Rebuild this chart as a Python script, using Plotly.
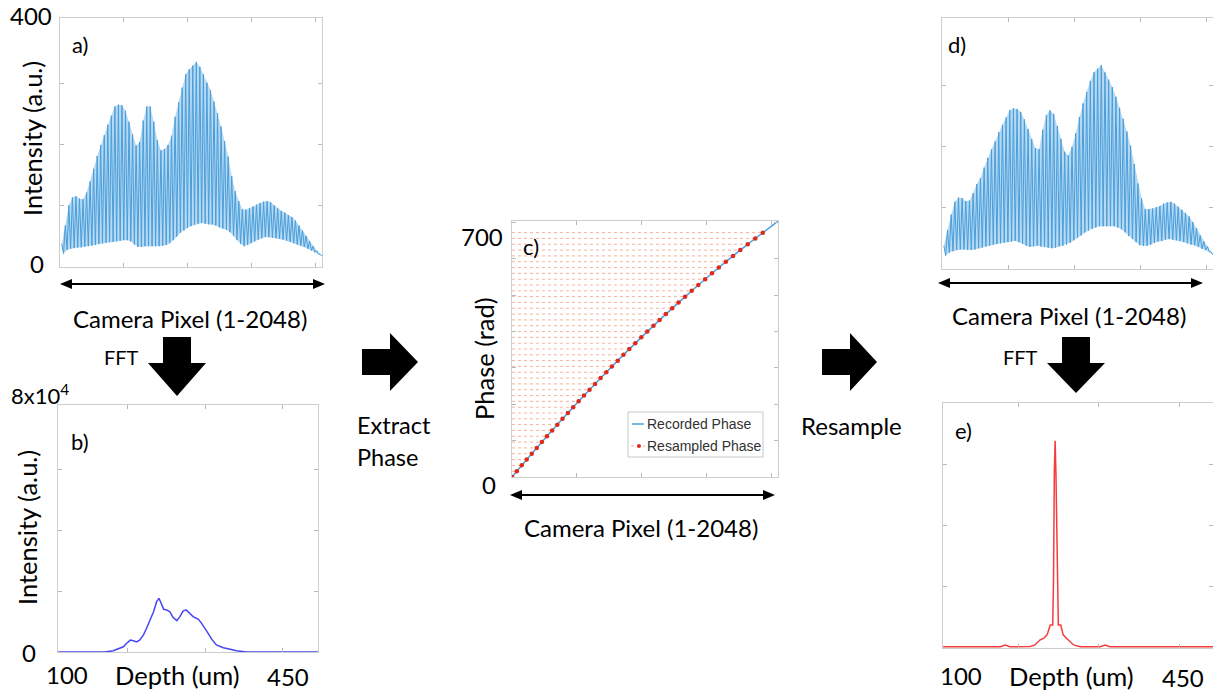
import plotly.graph_objects as go

W, H = 1213, 692

# ---------------- data ----------------
# a) raw spectrum: fringe peak / trough intensities (a.u.), 74 fringes over pixels 1-2048
a_peaks = [38, 68, 101, 114, 116, 112, 111, 122, 140, 161, 182, 200, 216, 233, 248, 263, 266, 265, 256, 238,
           217, 199, 205, 240, 263, 263, 238, 208, 191, 193, 200, 215, 246, 270, 294, 316, 324, 330, 336, 328,
           316, 302, 290, 271, 252, 230, 206, 181, 149, 124, 108, 95, 94, 96, 99, 102, 105, 107, 108, 106,
           101, 96, 92, 89, 85, 82, 76, 68, 60, 51, 42, 34, 27, 21]
a_troughs = [22, 28, 30, 31, 32, 32, 33, 34, 35, 36, 38, 39, 40, 41, 41, 42, 43, 44, 44, 42,
             37, 33, 33, 34, 34, 34, 34, 34, 35, 36, 39, 44, 50, 56, 60, 64, 67, 69, 71, 72,
             71, 70, 70, 68, 65, 63, 61, 57, 51, 44, 38, 34, 36, 39, 42, 45, 47, 49, 49, 48,
             47, 46, 45, 43, 41, 39, 37, 35, 33, 30, 27, 24, 21, 18]

# d) resampled spectrum
d_peaks = [38, 64, 89, 110, 117, 116, 111, 112, 124, 139, 149, 166, 182, 196, 209, 224, 236, 248, 260, 263,
           262, 257, 245, 229, 213, 198, 196, 228, 252, 260, 254, 234, 213, 192, 186, 200, 222, 249, 271, 290,
           308, 322, 328, 334, 322, 310, 298, 282, 264, 246, 225, 202, 172, 140, 116, 98, 98, 99, 101, 103,
           107, 109, 110, 107, 102, 97, 92, 86, 77, 67, 55, 45, 37, 28]
d_troughs = [22, 27, 29, 31, 32, 32, 31, 31, 32, 34, 35, 37, 38, 40, 41, 42, 43, 44, 45, 46,
             44, 41, 38, 36, 37, 38, 37, 36, 35, 34, 35, 37, 38, 40, 43, 47, 51, 55, 60, 63,
             66, 68, 70, 70, 70, 70, 70, 68, 65, 60, 54, 49, 44, 39, 38, 38, 40, 43, 45, 46,
             48, 49, 48, 47, 46, 44, 42, 40, 39, 36, 33, 31, 28, 23]

# b) FFT of raw spectrum (depth um, intensity x1e4)
b_depth = [110, 170, 181, 187, 194, 198, 203, 207, 211, 215, 220, 224, 228, 233, 237, 240, 242, 246, 250, 254,
           258, 263, 267, 271, 275, 280, 284, 291, 295, 302, 308, 314, 323, 332, 340, 353, 445]
b_int = [0, 0, 0.04, 0.09, 0.17, 0.28, 0.39, 0.37, 0.33, 0.39, 0.56, 0.78, 1.03, 1.32, 1.65, 1.76, 1.65, 1.40, 1.38, 1.32,
         1.14, 1.03, 1.16, 1.34, 1.38, 1.27, 1.16, 1.07, 0.94, 0.67, 0.42, 0.23, 0.14, 0.09, 0.04, 0, 0]

# e) FFT of resampled spectrum
e_depth = [107, 178, 184, 190, 215, 221, 227, 232, 236, 240, 243, 244, 245, 246, 247, 248.5, 250, 253, 256, 260,
           265, 269, 277, 302, 308, 314, 442]
e_int = [0.04, 0.04, 0.1, 0.04, 0.05, 0.1, 0.26, 0.32, 0.43, 0.75, 0.75, 2.23, 5.73, 6.79, 5.73, 2.23, 0.75, 0.75, 0.43, 0.32,
         0.21, 0.1, 0.04, 0.04, 0.1, 0.04, 0.04]

# c) recorded phase and resampled phase points
c_pixel = [1, 256, 512, 768, 1024, 1280, 1536, 1792, 2048]
c_phase = [0, 106.3, 207.4, 303.2, 393.7, 478.9, 558.9, 633.6, 703]
res_phase = [0, 16, 32, 48, 64, 80, 96, 112, 128, 144, 160, 176, 192, 208, 224, 240, 256, 272, 288, 304,
             320, 336, 352, 368, 384, 400, 416, 432, 448, 464, 480, 496, 512, 528, 544, 560, 576, 592, 608, 624,
             640, 656, 672]
res_pixel = [1, 38, 76, 114, 153, 191, 231, 270, 310, 350, 390, 431, 472, 514, 555, 598, 640, 683, 727, 770,
             815, 859, 904, 950, 996, 1042, 1090, 1137, 1185, 1234, 1283, 1333, 1384, 1435, 1487, 1540, 1593, 1647, 1702, 1758,
             1815, 1873, 1931]

pixel_ticks = [500, 1000, 1500, 2000]
depth_ticks = [200, 300, 400]

# ---------------- helpers ----------------
def X(px):
    return px / W

def Y(py):
    return 1 - py / H

def fringe_x(n):
    peaks_x = [1 + (i + 0.5) * 2047 / n for i in range(n)]
    troughs_x = [1 + (i + 1.0) * 2047 / n for i in range(n)]
    return peaks_x, troughs_x

def zigzag(peaks, troughs):
    px, tx = fringe_x(len(peaks))
    xs, ys = [], []
    for i in range(len(peaks)):
        xs += [px[i], tx[i]]
        ys += [peaks[i], troughs[i]]
    return xs, ys

fig = go.Figure()

LINE_BLUE = "rgb(72,158,220)"
FILL_BLUE = "rgba(165,208,238,0.8)"

for peaks, troughs, xa, ya in [(a_peaks, a_troughs, "x", "y"), (d_peaks, d_troughs, "x4", "y4")]:
    px, tx = fringe_x(len(peaks))
    # light band between the fringe troughs and peaks
    fig.add_trace(go.Scatter(x=tx, y=troughs, mode="lines", line=dict(width=0), xaxis=xa, yaxis=ya,
                             showlegend=False, hoverinfo="skip"))
    fig.add_trace(go.Scatter(x=px, y=peaks, mode="lines", line=dict(width=0), fill="tonexty",
                             fillcolor=FILL_BLUE, xaxis=xa, yaxis=ya, showlegend=False, hoverinfo="skip"))
    zx, zy = zigzag(peaks, troughs)
    fig.add_trace(go.Scatter(x=zx, y=zy, mode="lines", line=dict(color=LINE_BLUE, width=1),
                             xaxis=xa, yaxis=ya, showlegend=False))

fig.add_trace(go.Scatter(x=b_depth, y=b_int, mode="lines", line=dict(color="rgb(70,70,245)", width=1.5),
                         xaxis="x2", yaxis="y2", showlegend=False))
fig.add_trace(go.Scatter(x=e_depth, y=e_int, mode="lines", line=dict(color="rgb(245,60,60)", width=1.5),
                         xaxis="x5", yaxis="y5", showlegend=False))

# c) dotted horizontal lines + dots
hx, hy = [], []
for p, ph in zip(res_pixel, res_phase):
    hx += [1, p, None]
    hy += [ph, ph, None]
DOT_LINE = "rgb(246,178,155)"
fig.add_trace(go.Scatter(x=hx, y=hy, mode="lines", line=dict(color=DOT_LINE, width=1, dash="dot"),
                         xaxis="x3", yaxis="y3", showlegend=False, connectgaps=False))
fig.add_trace(go.Scatter(x=c_pixel, y=c_phase, mode="lines", line=dict(color="rgb(70,160,225)", width=1.5, shape="spline"),
                         xaxis="x3", yaxis="y3", showlegend=False))
fig.add_trace(go.Scatter(x=res_pixel, y=res_phase, mode="markers", marker=dict(color="rgb(225,40,25)", size=4.5),
                         xaxis="x3", yaxis="y3", showlegend=False))

frame = dict(showline=True, linecolor="rgb(205,205,205)", linewidth=1, mirror="ticks",
             ticks="inside", ticklen=4, tickcolor="rgb(185,185,185)", showticklabels=False,
             showgrid=False, zeroline=False, fixedrange=True)

def ax(domain, rng, tickvals, anchor):
    d = dict(frame)
    d.update(domain=domain, range=rng, tickvals=tickvals, anchor=anchor)
    return d

layout = dict(
    width=W, height=H, margin=dict(l=0, r=0, t=0, b=0),
    paper_bgcolor="white", plot_bgcolor="white",
    xaxis=ax([X(60), X(322)], [1, 2048], pixel_ticks, "y"),
    yaxis=ax([Y(267), Y(18)], [0, 408], [100, 200, 300], "x"),
    xaxis2=ax([X(58), X(318)], [109.7, 445.2], depth_ticks, "y2"),
    yaxis2=ax([Y(652), Y(405)], [0, 8.1], [2, 4, 6], "x2"),
    xaxis3=ax([X(512), X(778)], [1, 2048], pixel_ticks, "y3"),
    yaxis3=ax([Y(477), Y(221)], [0, 704], [100, 200, 300, 400, 500, 600, 700], "x3"),
    xaxis4=ax([X(942), 1.0], [1, 2048], pixel_ticks, "y4"),
    yaxis4=ax([Y(269), Y(18)], [0, 411], [100, 200, 300], "x4"),
    xaxis5=ax([X(943), 1.0], [106.8, 442], depth_ticks, "y5"),
    yaxis5=ax([Y(648), Y(403)], [0, 8.03], [2, 4, 6], "x5"),
)
fig.update_layout(**layout)

FONT = "Lato"
ann = []

def text(s, cx, cy, size, angle=0, xanchor="center", color="black", family=FONT):
    ann.append(dict(text=s, x=X(cx), y=Y(cy), xref="paper", yref="paper", showarrow=False,
                    xanchor=xanchor, yanchor="middle", textangle=angle,
                    font=dict(family=family, size=size, color=color)))

# panel a
text("400", 31, 16, 24)
text("0", 37, 263, 24)
text("Intensity (a.u.)", 32, 139, 25.5, angle=-90)
text("a)", 80, 45, 22)
text("Camera Pixel (1-2048)", 190, 318, 24)
text("FFT", 121, 357, 20)
# panel b
text("8x10<sup>4</sup>", 40, 394, 22)
text("Intensity (a.u.)", 27, 528, 25.5, angle=-90)
text("b)", 80, 441, 22)
text("0", 29, 652, 24)
text("100", 67, 674, 24)
text("Depth (um)", 177, 675, 25.5)
text("450", 288, 676, 24)
# middle
text("Extract", 355, 425, 23.5, xanchor="left")
text("Phase", 355, 457, 23.5, xanchor="left")
text("700", 482, 237, 24)
text("0", 489, 484, 24)
text("Phase (rad)", 484, 359, 25.5, angle=-90)
text("c)", 531, 246, 22)
text("Camera Pixel (1-2048)", 641, 527, 24)
text("Resample", 851, 425, 24)
# right
text("d)", 957, 45, 22)
text("Camera Pixel (1-2048)", 1069, 316, 24)
text("FFT", 1020, 357, 20)
text("e)", 963, 430, 22)
text("100", 961, 675, 24)
text("Depth (um)", 1071, 676, 25.5)
text("450", 1183, 677, 24)
# legend text
text("Recorded Phase", 645, 424, 14, xanchor="left", color="rgb(50,50,50)", family="Liberation Sans")
text("Resampled Phase", 645, 446, 14, xanchor="left", color="rgb(50,50,50)", family="Liberation Sans")

shapes = []

def poly(pts):
    path = "M " + " L ".join(f"{X(px):.5f},{Y(py):.5f}" for px, py in pts) + " Z"
    shapes.append(dict(type="path", path=path, xref="paper", yref="paper",
                       fillcolor="black", line=dict(width=0)))

def down_arrow(cx, top, stem_bot, tip, sw=14, hw=29):
    poly([(cx - sw, top), (cx + sw, top), (cx + sw, stem_bot), (cx + hw, stem_bot),
          (cx, tip), (cx - hw, stem_bot), (cx - sw, stem_bot)])

def right_arrow(left, cy, stem_right, tip, sh=13, hh=29):
    poly([(left, cy - sh), (stem_right, cy - sh), (stem_right, cy - hh), (tip, cy),
          (stem_right, cy + hh), (stem_right, cy + sh), (left, cy + sh)])

def dbl_arrow(x0, x1, y):
    shapes.append(dict(type="line", x0=X(x0 + 6), x1=X(x1 - 6), y0=Y(y), y1=Y(y), xref="paper", yref="paper",
                       line=dict(color="black", width=2)))
    poly([(x0, y), (x0 + 12, y - 5), (x0 + 12, y + 5)])
    poly([(x1, y), (x1 - 12, y - 5), (x1 - 12, y + 5)])

down_arrow(177, 337, 363, 396)
down_arrow(1076, 337, 363, 393)
right_arrow(362, 362, 390, 418)
right_arrow(822, 362, 850, 877)
dbl_arrow(60, 325, 284)
dbl_arrow(510, 775, 495)
dbl_arrow(938, 1203, 283)

# legend box for c
shapes.append(dict(type="rect", x0=X(628), x1=X(763), y0=Y(412), y1=Y(457), xref="paper", yref="paper",
                   line=dict(color="rgb(200,200,200)", width=1), fillcolor="white", layer="above"))
shapes.append(dict(type="line", x0=X(632), x1=X(644), y0=Y(424), y1=Y(424), xref="paper", yref="paper",
                   line=dict(color="rgb(70,160,225)", width=1.5)))
shapes.append(dict(type="line", x0=X(631), x1=X(645), y0=Y(446), y1=Y(446), xref="paper", yref="paper",
                   line=dict(color=DOT_LINE, width=1, dash="dot")))
shapes.append(dict(type="circle", x0=X(637), x1=X(641), y0=Y(444), y1=Y(448), xref="paper", yref="paper",
                   line=dict(width=0), fillcolor="rgb(225,40,25)"))

fig.update_layout(annotations=ann, shapes=shapes)
fig.write_html("out.html")
